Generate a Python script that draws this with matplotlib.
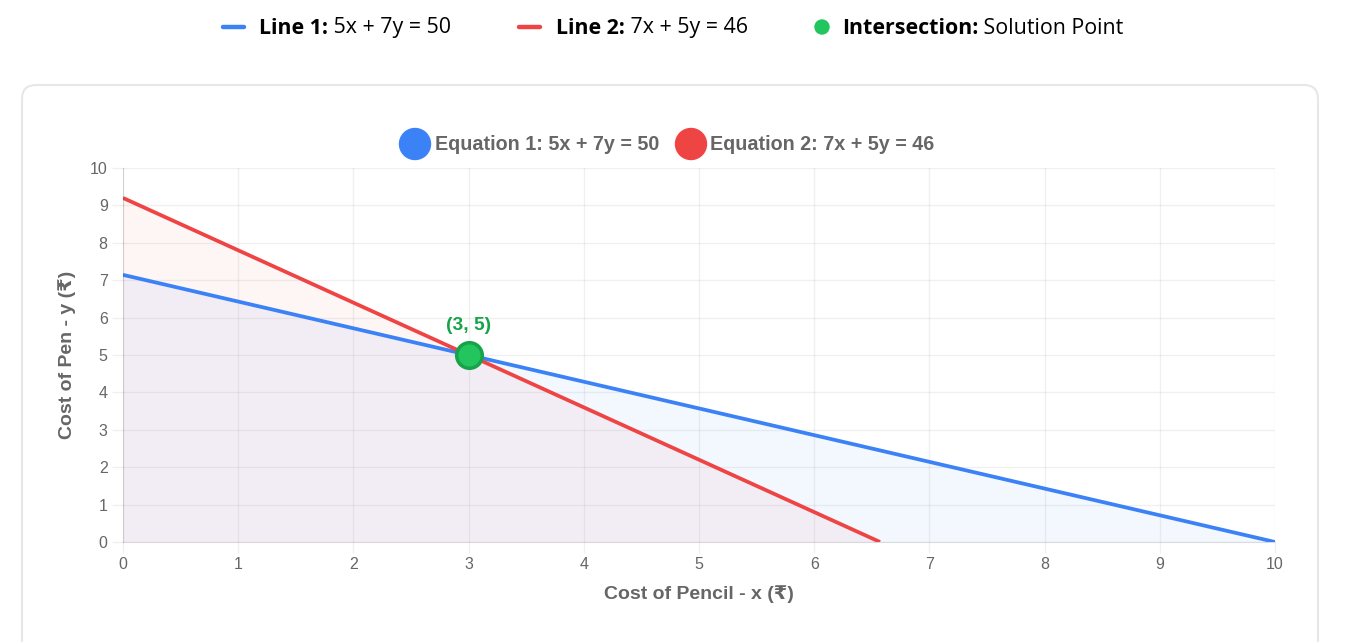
import matplotlib
matplotlib.use("Agg")
import matplotlib.pyplot as plt
from matplotlib.patches import FancyBboxPatch, Circle
from matplotlib.lines import Line2D
import numpy as np

# ---- data ----
line1_x = [0, 3, 10]
line1_y = [50/7, 5, 0]
line2_x = [0, 3, 46/7]
line2_y = [46/5, 5, 0]
intersection = (3, 5)
x_ticks = [0, 1, 2, 3, 4, 5, 6, 7, 8, 9, 10]
y_ticks = [0, 1, 2, 3, 4, 5, 6, 7, 8, 9, 10]
x_title = "Cost of Pencil - x (₹)"
y_title = "Cost of Pen - y (₹)"
eq1_label = "Equation 1: 5x + 7y = 50"
eq2_label = "Equation 2: 7x + 5y = 46"
top_legend = [("Line 1:", " 5x + 7y = 50"), ("Line 2:", " 7x + 5y = 46"), ("Intersection:", " Solution Point")]

BLUE = "#3b82f6"
RED = "#ef4444"
GREEN = "#22c55e"
DGREEN = "#16a34a"
GRAY = "#666666"

W, H = 1357, 642
fig = plt.figure(figsize=(W/100, H/100), dpi=100)
fig.patch.set_facecolor("white")

# background pixel axes
bg = fig.add_axes([0, 0, 1, 1], zorder=0)
bg.set_xlim(0, W)
bg.set_ylim(H, 0)
bg.axis("off")

card = FancyBboxPatch((22, 85), 1296, 600, boxstyle="round,pad=0,rounding_size=14",
                      facecolor="white", edgecolor="#e5e7eb", linewidth=1.5)
bg.add_patch(card)

renderer = fig.canvas.get_renderer()
ui_font = ["Open Sans", "DejaVu Sans"]
def two_part(x, y, bold, normal, size):
    t = bg.text(x, y, bold, fontsize=size, fontweight="bold", family=ui_font,
                va="center", ha="left", color="black")
    bb = t.get_window_extent(renderer=renderer)
    bg.text(x + bb.width, y, normal, fontsize=size, family=ui_font,
            va="center", ha="left", color="black")

ty = 27
lsz = 15.4
bg.add_line(Line2D([223, 244], [ty, ty], color=BLUE, lw=3.2, solid_capstyle="round"))
two_part(259, ty + 1, top_legend[0][0], top_legend[0][1], lsz)
bg.add_line(Line2D([519, 540], [ty, ty], color=RED, lw=3.2, solid_capstyle="round"))
two_part(556, ty + 1, top_legend[1][0], top_legend[1][1], lsz)
bg.add_patch(Circle((822, ty), 7, color=GREEN))
two_part(842, ty + 1, top_legend[2][0], top_legend[2][1], lsz)

# inner legend
chart_font = ["Liberation Sans", "DejaVu Sans"]
bg.add_patch(Circle((415, 144), 15.5, color=BLUE, zorder=3))
bg.text(435, 144, eq1_label, fontsize=14.2, fontweight="bold", family=chart_font,
        color=GRAY, va="center", ha="left")
bg.add_patch(Circle((691, 144), 15.5, color=RED, zorder=3))
bg.text(710, 144, eq2_label, fontsize=14.2, fontweight="bold", family=chart_font,
        color=GRAY, va="center", ha="left")

# main axes
L, R, T, B = 123, 1275, 168, 542
ax = fig.add_axes([L/W, (H-B)/H, (R-L)/W, (B-T)/H], zorder=2)
ax.set_facecolor("none")
ax.set_xlim(0, 10)
ax.set_ylim(0, 10)

ax.fill_between(line1_x, line1_y, 0, color=BLUE, alpha=0.06, linewidth=0)
ax.fill_between(line2_x, line2_y, 0, color=RED, alpha=0.05, linewidth=0)
ax.plot(line1_x, line1_y, color=BLUE, lw=2.7, solid_capstyle="butt")
ax.plot(line2_x, line2_y, color=RED, lw=2.7, solid_capstyle="butt")
ax.scatter([intersection[0]], [intersection[1]], s=340, color=GREEN, edgecolor=DGREEN,
           linewidth=2.5, zorder=5, clip_on=False)
ax.annotate("(3, 5)", xy=intersection, xytext=(0, 29), textcoords="offset pixels",
            ha="center", va="center", fontsize=13.8, fontweight="bold", color=DGREEN,
            family=chart_font)

ax.set_xticks(x_ticks)
ax.set_yticks(y_ticks)
ax.set_xticklabels([str(v) for v in x_ticks])
ax.set_yticklabels([str(v) for v in y_ticks])
ax.grid(True, color="#000000", alpha=0.06, linewidth=1)
ax.set_axisbelow(True)
ax.tick_params(axis="both", length=8, width=1, color=(0, 0, 0, 0.06), labelcolor=GRAY,
               labelsize=11.5, pad=3)
for lab in ax.get_xticklabels() + ax.get_yticklabels():
    lab.set_family(chart_font)
for s in ["top", "right"]:
    ax.spines[s].set_visible(False)
ax.spines["left"].set_color((0, 0, 0, 0.12))
ax.spines["bottom"].set_color((0, 0, 0, 0.12))

ax.set_xlabel(x_title, fontsize=14, fontweight="bold", color=GRAY, family=chart_font, labelpad=9)
ax.set_ylabel(y_title, fontsize=14, fontweight="bold", color=GRAY, family=chart_font, labelpad=10)

fig.savefig("out.png", dpi=100)
